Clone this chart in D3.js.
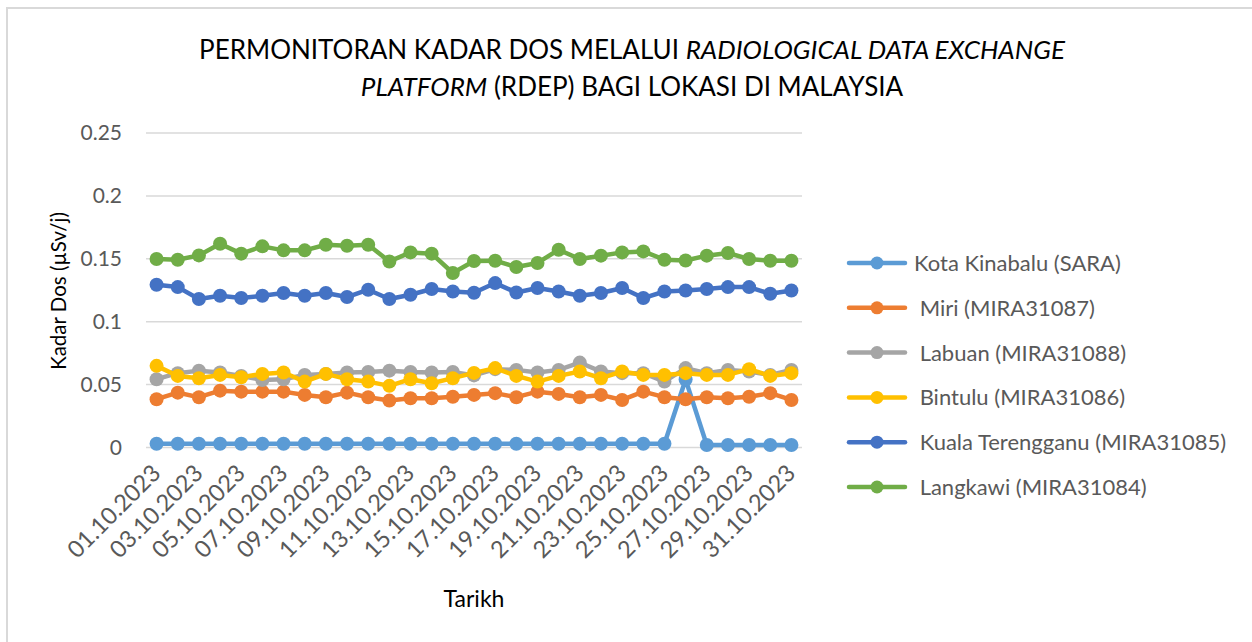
<!DOCTYPE html>
<html>
<head>
<meta charset="utf-8">
<title>RDEP</title>
<style type="text/css">
  body { margin: 0; background: #fff; }
  text { font-family: Lato, "Open Sans", sans-serif; }
</style>
</head>
<body>
<div class="container"></div>
<script src="https://d3js.org/d3.v7.min.js"></script>
<script type="text/javascript">
var wd = 1252, ht = 642

// dates 01.10.2023 .. 31.10.2023
var dates = ["01.10.2023","02.10.2023","03.10.2023","04.10.2023","05.10.2023","06.10.2023","07.10.2023","08.10.2023",
  "09.10.2023","10.10.2023","11.10.2023","12.10.2023","13.10.2023","14.10.2023","15.10.2023","16.10.2023",
  "17.10.2023","18.10.2023","19.10.2023","20.10.2023","21.10.2023","22.10.2023","23.10.2023","24.10.2023",
  "25.10.2023","26.10.2023","27.10.2023","28.10.2023","29.10.2023","30.10.2023","31.10.2023"]
var dateTicks = dates.filter(function(d, i) { return i % 2 == 0 })

var kotaKinabalu = [0.003,0.003,0.003,0.003,0.003,0.003,0.003,0.003,0.003,0.003,0.003,0.003,0.003,0.003,0.003,0.003,
  0.003,0.003,0.003,0.003,0.003,0.003,0.003,0.003,0.003,0.054,0.002,0.002,0.002,0.002,0.002]
var miri = [0.0384,0.0436,0.0400,0.0452,0.0444,0.0444,0.0444,0.0418,0.0400,0.0436,0.0400,0.0373,0.0392,0.0392,0.0404,0.0418,
  0.0432,0.0400,0.0444,0.0426,0.0400,0.0418,0.0378,0.0444,0.0400,0.0384,0.0400,0.0392,0.0404,0.0432,0.0378]
var labuan = [0.0543,0.0591,0.0611,0.0596,0.0569,0.0537,0.0543,0.0577,0.0585,0.0596,0.0601,0.0611,0.0601,0.0596,0.0601,0.0573,
  0.0623,0.0617,0.0596,0.0617,0.0675,0.0604,0.0591,0.0591,0.0524,0.0631,0.0591,0.0617,0.0604,0.0577,0.0617]
var bintulu = [0.0649,0.0569,0.0551,0.0577,0.0559,0.0585,0.0596,0.0524,0.0585,0.0543,0.0524,0.0490,0.0543,0.0511,0.0551,0.0593,
  0.0631,0.0569,0.0524,0.0569,0.0604,0.0551,0.0604,0.0577,0.0577,0.0591,0.0577,0.0577,0.0623,0.0569,0.0591]
var kualaTerengganu = [0.1294,0.1275,0.1180,0.1206,0.1188,0.1206,0.1228,0.1206,0.1228,0.1196,0.1254,0.1180,0.1214,0.1260,0.1240,0.1230,
  0.1307,0.1232,0.1268,0.1240,0.1206,0.1228,0.1268,0.1188,0.1240,0.1248,0.1260,0.1275,0.1275,0.1222,0.1248]
var langkawi = [0.1498,0.1493,0.1527,0.1620,0.1541,0.1599,0.1567,0.1567,0.1612,0.1604,0.1612,0.1479,0.1551,0.1541,0.1387,0.1482,
  0.1485,0.1435,0.1467,0.1572,0.1498,0.1525,0.1551,0.1559,0.1493,0.1487,0.1525,0.1546,0.1498,0.1485,0.1485]

var seriesNames = ["Kota Kinabalu (SARA)", " Miri (MIRA31087)", " Labuan (MIRA31088)", " Bintulu (MIRA31086)",
  " Kuala Terengganu (MIRA31085)", " Langkawi (MIRA31084)"]
var seriesValues = [kotaKinabalu, miri, labuan, bintulu, kualaTerengganu, langkawi]
var seriesColors = ["#5B9BD5", "#ED7D31", "#A5A5A5", "#FFC000", "#4472C4", "#70AD47"]
var yTicks = [0, 0.05, 0.1, 0.15, 0.2, 0.25]

var svgCont = d3.select(".container").append("svg")
  .attr("width", wd)
  .attr("height", ht)

// chart border (right/bottom run off the picture)
svgCont.append("rect")
  .attr("x", 7).attr("y", 8)
  .attr("width", 1300).attr("height", 700)
  .attr("fill", "#fff")
  .attr("stroke", "#d9d9d9")
  .attr("stroke-width", 2)

var x = d3.scalePoint().domain(dates).range([146, 802]).padding(0.5)
var y = d3.scaleLinear().domain([0, 0.25]).range([447.5, 133])

// gridlines
svgCont.append("g").selectAll("line")
  .data(yTicks)
  .join("line")
  .attr("x1", 146).attr("x2", 802)
  .attr("y1", function(d) { return y(d) })
  .attr("y2", function(d) { return y(d) })
  .attr("stroke", "#d9d9d9")
  .attr("stroke-width", 1.5)

// y axis
var yAxis = svgCont.append("g")
  .attr("transform", "translate(146,0)")
  .call(d3.axisLeft(y).tickValues(yTicks).tickSize(0).tickPadding(24)
    .tickFormat(function(d) { return String(+d.toFixed(2)) }))
yAxis.select(".domain").remove()
yAxis.selectAll("text")
  .attr("fill", "#595959")
  .style("font-size", "21px")
  .style("font-family", "Lato")

// x axis
var xAxis = svgCont.append("g")
  .attr("transform", "translate(0,447.5)")
  .call(d3.axisBottom(x).tickValues(dateTicks).tickSize(0))
xAxis.select(".domain").remove()
xAxis.selectAll("text")
  .attr("y", 0).attr("dy", 0)
  .attr("text-anchor", "end")
  .attr("transform", "translate(5,27) rotate(-45)")
  .attr("fill", "#595959")
  .style("font-size", "23.5px")
  .style("font-family", "Lato")

// series
var line = d3.line()
  .x(function(d, i) { return x(dates[i]) })
  .y(function(d) { return y(d) })

seriesValues.forEach(function(vals, s) {
  var g = svgCont.append("g")
  g.append("path")
    .attr("d", line(vals))
    .attr("fill", "none")
    .attr("stroke", seriesColors[s])
    .attr("stroke-width", 4.5)
    .attr("stroke-linejoin", "round")
    .attr("stroke-linecap", "round")
  g.selectAll("circle")
    .data(vals)
    .join("circle")
    .attr("cx", function(d, i) { return x(dates[i]) })
    .attr("cy", function(d) { return y(d) })
    .attr("r", 7)
    .attr("fill", seriesColors[s])
})

// title
var title = svgCont.append("text")
  .attr("text-anchor", "middle")
  .attr("fill", "#000")
  .style("font-size", "26px")
title.append("tspan").attr("x", 632).attr("y", 59).text("PERMONITORAN KADAR DOS MELALUI ")
title.append("tspan").style("font-style", "italic").text("RADIOLOGICAL DATA EXCHANGE")
var title2 = svgCont.append("text")
  .attr("text-anchor", "middle")
  .attr("fill", "#000")
  .style("font-size", "26px")
title2.append("tspan").attr("x", 632).attr("y", 96).style("font-style", "italic").text("PLATFORM")
title2.append("tspan").text(" (RDEP) BAGI LOKASI DI MALAYSIA")

// axis titles
svgCont.append("text")
  .attr("transform", "translate(66,291) rotate(-90)")
  .attr("text-anchor", "middle")
  .attr("fill", "#000")
  .style("font-size", "20.5px")
  .text("Kadar Dos (\u00b5Sv/j)")

svgCont.append("text")
  .attr("x", 474).attr("y", 607)
  .attr("text-anchor", "middle")
  .attr("fill", "#000")
  .style("font-size", "23px")
  .text("Tarikh")

// legend
var legend = svgCont.append("g").selectAll("g")
  .data(seriesNames)
  .join("g")
  .attr("transform", function(d, i) { return "translate(0," + (263 + i * 44.8) + ")" })
legend.append("line")
  .attr("x1", 849).attr("x2", 905)
  .attr("stroke", function(d, i) { return seriesColors[i] })
  .attr("stroke-width", 4.5)
  .attr("stroke-linecap", "round")
legend.append("circle")
  .attr("cx", 877).attr("r", 6.5)
  .attr("fill", function(d, i) { return seriesColors[i] })
legend.append("text")
  .attr("x", 914).attr("dy", "0.36em")
  .attr("fill", "#595959")
  .style("font-size", "22px")
  .style("white-space", "pre")
  .text(function(d) { return d })
</script>
</body>
</html>
